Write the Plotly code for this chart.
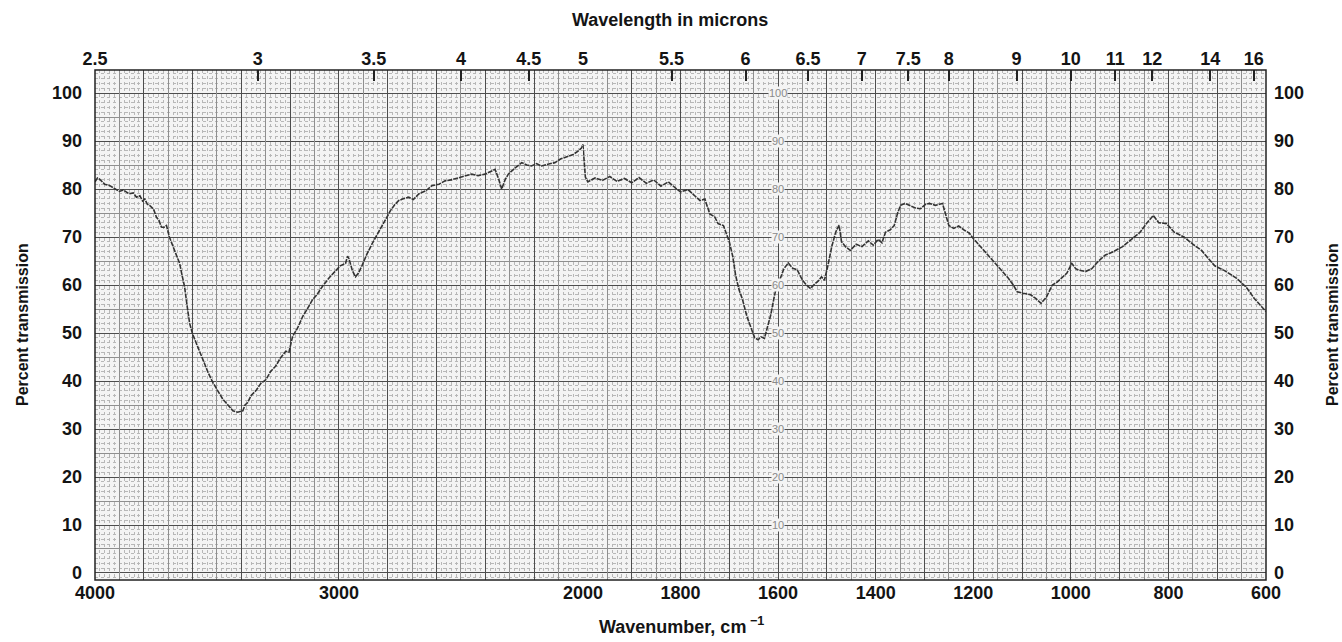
import plotly.graph_objects as go

# ---------------- data ----------------
left_wn = [4000, 3990, 3980, 3960, 3939, 3920, 3900, 3884, 3860, 3843, 3830, 3816, 3805, 3796,
           3785, 3776, 3760, 3748, 3738, 3728, 3718, 3707, 3695, 3680, 3665, 3653, 3643, 3633,
           3622, 3612, 3600, 3585, 3570, 3551, 3535, 3517, 3495, 3476, 3455, 3435, 3415, 3394,
           3385, 3374, 3360, 3340, 3320, 3299, 3280, 3259, 3240, 3218, 3205, 3190, 3170, 3149,
           3130, 3109, 3090, 3068, 3040, 3013, 2995, 2973, 2965, 2959, 2945, 2932, 2920, 2905,
           2885, 2864, 2845, 2823, 2805, 2789, 2770, 2755, 2735, 2714, 2695, 2673, 2645, 2619,
           2590, 2565, 2540, 2510, 2485, 2456, 2430, 2401, 2380, 2360, 2345, 2333, 2320, 2306,
           2280, 2251, 2230, 2211, 2190, 2170, 2140, 2115, 2090, 2061, 2040, 2020, 2005, 2000]
left_t = [81.5, 82.3, 82.0, 81.0, 80.7, 80.2, 79.5, 79.8, 79.0, 79.2, 78.3, 78.6, 77.5, 77.9,
          76.8, 76.6, 75.8, 74.1, 73.5, 72.1, 72.0, 72.4, 70.0, 68.0, 66.0, 64.5, 62.0, 59.7,
          55.5, 52.0, 49.8, 47.9, 45.8, 43.8, 41.6, 39.7, 37.8, 36.2, 35.0, 33.8, 33.5, 33.8,
          35.0, 35.5, 37.0, 38.0, 39.5, 40.3, 42.0, 43.1, 44.8, 46.2, 46.0, 49.3, 51.0, 53.4,
          55.0, 56.9, 58.0, 59.7, 61.5, 63.1, 64.0, 64.5, 66.0, 65.5, 63.0, 61.7, 62.5, 64.1,
          66.5, 68.6, 70.5, 72.4, 74.0, 75.5, 76.8, 77.6, 78.0, 78.3, 77.8, 79.0, 79.6, 80.7,
          81.0, 81.7, 81.9, 82.4, 82.7, 83.1, 82.8, 83.1, 83.7, 84.1, 82.0, 80.0, 81.8, 83.1,
          84.3, 85.5, 85.0, 84.8, 85.3, 84.8, 85.2, 85.5, 86.3, 86.9, 87.2, 87.9, 88.6, 89.3]

right_wn = [2000, 1995, 1990, 1975, 1960, 1945, 1930, 1915, 1900, 1885, 1870, 1855, 1840, 1825,
            1810, 1800, 1785, 1770, 1760, 1750, 1740, 1730, 1723, 1712, 1700, 1693, 1687, 1680,
            1673, 1664, 1655, 1648, 1641, 1635, 1628, 1622, 1615, 1608, 1601, 1595, 1588, 1579,
            1570, 1561, 1550, 1542, 1534, 1525, 1518, 1511, 1505, 1498, 1490, 1482, 1475, 1470,
            1462, 1452, 1440, 1428, 1415, 1405, 1395, 1387, 1380, 1370, 1362, 1355, 1349, 1340,
            1326, 1317, 1308, 1298, 1290, 1278, 1263, 1256, 1250, 1240, 1230, 1218, 1208, 1200,
            1185, 1164, 1145, 1128, 1118, 1110, 1098, 1083, 1072, 1061, 1050, 1038, 1028, 1020,
            1008, 998, 990, 984, 970, 957, 945, 930, 912, 894, 875, 858, 845, 831, 820, 804, 788,
            768, 750, 732, 718, 705, 685, 660, 640, 624, 610, 600]
right_t = [89.3, 82.5, 81.5, 82.3, 81.8, 82.6, 81.6, 82.2, 81.3, 82.4, 81.2, 81.9, 80.6, 81.5,
           80.2, 79.4, 79.9, 78.6, 77.6, 77.9, 74.8, 74.2, 72.8, 72.4, 69.0, 66.0, 62.0, 59.0,
           57.0, 53.5, 51.0, 49.0, 48.6, 49.2, 48.9, 51.0, 53.8, 57.5, 60.7, 61.5, 63.4, 64.6,
           63.5, 63.2, 61.0, 60.0, 59.3, 60.2, 60.8, 61.7, 61.0, 64.0, 68.0, 71.0, 72.5, 69.0,
           68.0, 67.2, 68.5, 68.0, 69.2, 68.3, 69.5, 68.8, 71.0, 71.5, 72.4, 75.0, 76.6, 77.0,
           76.4, 76.0, 75.9, 76.8, 77.0, 76.6, 77.0, 74.5, 72.4, 71.8, 72.3, 71.4, 70.8, 69.7,
           68.0, 65.5, 63.3, 61.4, 60.0, 58.6, 58.3, 58.0, 57.2, 56.2, 57.5, 60.0, 60.6, 61.4,
           62.5, 64.5, 63.4, 63.1, 62.8, 63.4, 64.8, 66.2, 67.0, 68.0, 69.5, 71.0, 72.8, 74.5,
           73.0, 72.8, 71.0, 70.0, 68.5, 67.2, 65.5, 64.0, 63.0, 61.4, 59.5, 57.2, 55.6, 54.5]

wavelength_left = [2.5, 3, 3.5, 4, 4.5, 5]
wavelength_right = [5.5, 6, 6.5, 7, 7.5, 8, 9, 10, 11, 12, 14, 16]
bottom_labels_left = [4000, 3000]
bottom_labels_right = [2000, 1800, 1600, 1400, 1200, 1000, 800, 600]
percent_ticks = list(range(0, 101, 10))
percent_half = list(range(5, 100, 10))
paper_scale_labels = list(range(10, 101, 10))

# ---------------- styling ----------------
FONT = "Liberation Sans, Arial, Helvetica, sans-serif"
BG = "#f4f4f4"
DARK = "#4d4d4d"
MED = "#8f8f8f"
FINE = "#b8b8b8"
LINE = "#333333"
TXT = "#141414"

D = 2000 / 4800  # 4000-2000 drawn at half the scale of 2000-600
LRANGE = [4000, 2000]
RRANGE = [2000, 600]
YRANGE = [-1.46, 104.8]

fig = go.Figure()

fig.add_trace(go.Scatter(x=left_wn, y=left_t, xaxis="x", yaxis="y", mode="lines",
                         line=dict(color=LINE, width=1.6, dash="5px,1px"),
                         hoverinfo="skip", showlegend=False))
fig.add_trace(go.Scatter(x=right_wn, y=right_t, xaxis="x2", yaxis="y", mode="lines",
                         line=dict(color=LINE, width=1.6, dash="5px,1px"),
                         hoverinfo="skip", showlegend=False))

# invisible copies so that every overlay axis gets its subplot
for xa, ya, xs, ys in [("x3", "y", left_wn, left_t), ("x4", "y", right_wn, right_t),
                       ("x5", "y", left_wn, left_t), ("x6", "y", right_wn, right_t),
                       ("x7", "y", left_wn, left_t), ("x8", "y", right_wn, right_t),
                       ("x", "y2", left_wn, left_t), ("x2", "y3", right_wn, right_t),
                       ("x", "y4", left_wn, left_t), ("x2", "y5", right_wn, right_t)]:
    fig.add_trace(go.Scatter(x=xs, y=ys, xaxis=xa, yaxis=ya, mode="lines", opacity=0,
                             line=dict(width=0), hoverinfo="skip", showlegend=False))

common = dict(zeroline=False, showline=False, ticks="", fixedrange=True)
TICKFONT = dict(size=18, weight="bold")


def grid_axis(over, rng, vals, color, **kw):
    return dict(overlaying=over, range=rng, tickmode="array", tickvals=vals,
                showticklabels=False, showgrid=True, gridcolor=color, gridwidth=1,
                **common, **kw)


fig.update_layout(
    width=1342, height=642,
    margin=dict(l=95, r=76, t=70, b=62),
    paper_bgcolor="white", plot_bgcolor=BG,
    font=dict(family=FONT, color=TXT, size=18),
    # main axes: labels + fine dotted grid
    xaxis=dict(domain=[0, D], range=LRANGE, anchor="y", tickmode="array",
               tickvals=bottom_labels_left, ticktext=[str(v) for v in bottom_labels_left],
               showgrid=False,
               minor=dict(tickmode="linear", dtick=20, tick0=0, showgrid=True,
                          gridcolor=FINE, griddash="dot", gridwidth=1),
               tickfont=TICKFONT, **common),
    xaxis2=dict(domain=[D, 1], range=RRANGE, anchor="y", tickmode="array",
                tickvals=bottom_labels_right, ticktext=[str(v) for v in bottom_labels_right],
                showgrid=False,
                minor=dict(tickmode="linear", dtick=10, tick0=0, showgrid=True,
                           gridcolor=FINE, griddash="dot", gridwidth=1),
                tickfont=TICKFONT, **common),
    # dark grid lines
    xaxis3=grid_axis("x", LRANGE, list(range(4000, 1999, -200)), DARK, anchor="y"),
    xaxis4=grid_axis("x2", RRANGE, list(range(2000, 599, -100)), DARK, anchor="y"),
    # medium grid lines
    xaxis7=grid_axis("x", LRANGE, list(range(3900, 2000, -200)), MED, anchor="y"),
    xaxis8=grid_axis("x2", RRANGE, list(range(1950, 600, -100)), MED, anchor="y"),
    # wavelength scale on top
    xaxis5=dict(overlaying="x", range=LRANGE, anchor="y", side="top", tickmode="array",
                tickvals=[10000 / w for w in wavelength_left],
                ticktext=[f"{w:g}" for w in wavelength_left],
                ticks="inside", ticklen=11, tickwidth=1.5, tickcolor="#222",
                showgrid=False, zeroline=False, showline=False, fixedrange=True,
                tickfont=TICKFONT),
    xaxis6=dict(overlaying="x2", range=RRANGE, anchor="y", side="top", tickmode="array",
                tickvals=[10000 / w for w in wavelength_right],
                ticktext=[f"{w:g}" for w in wavelength_right],
                ticks="inside", ticklen=11, tickwidth=1.5, tickcolor="#222",
                showgrid=False, zeroline=False, showline=False, fixedrange=True,
                tickfont=TICKFONT),
    yaxis=dict(range=YRANGE, anchor="x", tickmode="linear", tick0=0, dtick=10,
               showticklabels=False, showgrid=False,
               minor=dict(tickmode="linear", dtick=1, tick0=0, showgrid=True,
                          gridcolor=FINE, griddash="dot", gridwidth=1),
               **common),
    yaxis2=dict(overlaying="y", anchor="x", side="left", range=YRANGE, tickmode="array",
                tickvals=percent_ticks, ticktext=[str(v) for v in percent_ticks],
                showgrid=True, gridcolor=DARK, gridwidth=1, ticklabelstandoff=12,
                tickfont=TICKFONT, **common),
    yaxis3=dict(overlaying="y", anchor="x2", side="right", range=YRANGE, tickmode="array",
                tickvals=percent_ticks, ticktext=[str(v) for v in percent_ticks],
                showgrid=True, gridcolor=DARK, gridwidth=1, ticklabelstandoff=7,
                tickfont=TICKFONT, **common),
    yaxis4=grid_axis("y", YRANGE, percent_half, MED, anchor="x", side="left"),
    yaxis5=grid_axis("y", YRANGE, percent_half, MED, anchor="x2", side="right"),
)

# frame
fig.add_shape(type="rect", xref="paper", yref="paper", x0=0, x1=1, y0=0, y1=1,
              line=dict(color="#222", width=1.5), layer="above")

# chart-paper scale numbers printed along the 1600 line
for v in paper_scale_labels:
    fig.add_annotation(x=1600, y=v, xref="x2", yref="y", text=str(v), showarrow=False,
                       font=dict(size=11, color="#8a8a8a", family=FONT), bgcolor=BG, borderpad=0)

# titles
TITLEFONT = dict(size=18, weight="bold")
fig.add_annotation(text="Wavelength in microns", xref="paper", yref="paper", x=0.491, y=1.098,
                   showarrow=False, font=TITLEFONT, xanchor="center", yanchor="middle")
fig.add_annotation(text="Wavenumber, cm<sup> \u22121</sup>", xref="paper", yref="paper",
                   x=0.501, y=-0.09, showarrow=False, font=TITLEFONT,
                   xanchor="center", yanchor="middle")
fig.add_annotation(text="Percent transmission", xref="paper", yref="paper", x=-0.0623, y=0.5,
                   textangle=-90, showarrow=False, font=dict(size=16, weight="bold"),
                   xanchor="center", yanchor="middle")
fig.add_annotation(text="Percent transmission", xref="paper", yref="paper", x=1.0564, y=0.5,
                   textangle=-90, showarrow=False, font=dict(size=16, weight="bold"),
                   xanchor="center", yanchor="middle")

fig.write_html("out.html")
